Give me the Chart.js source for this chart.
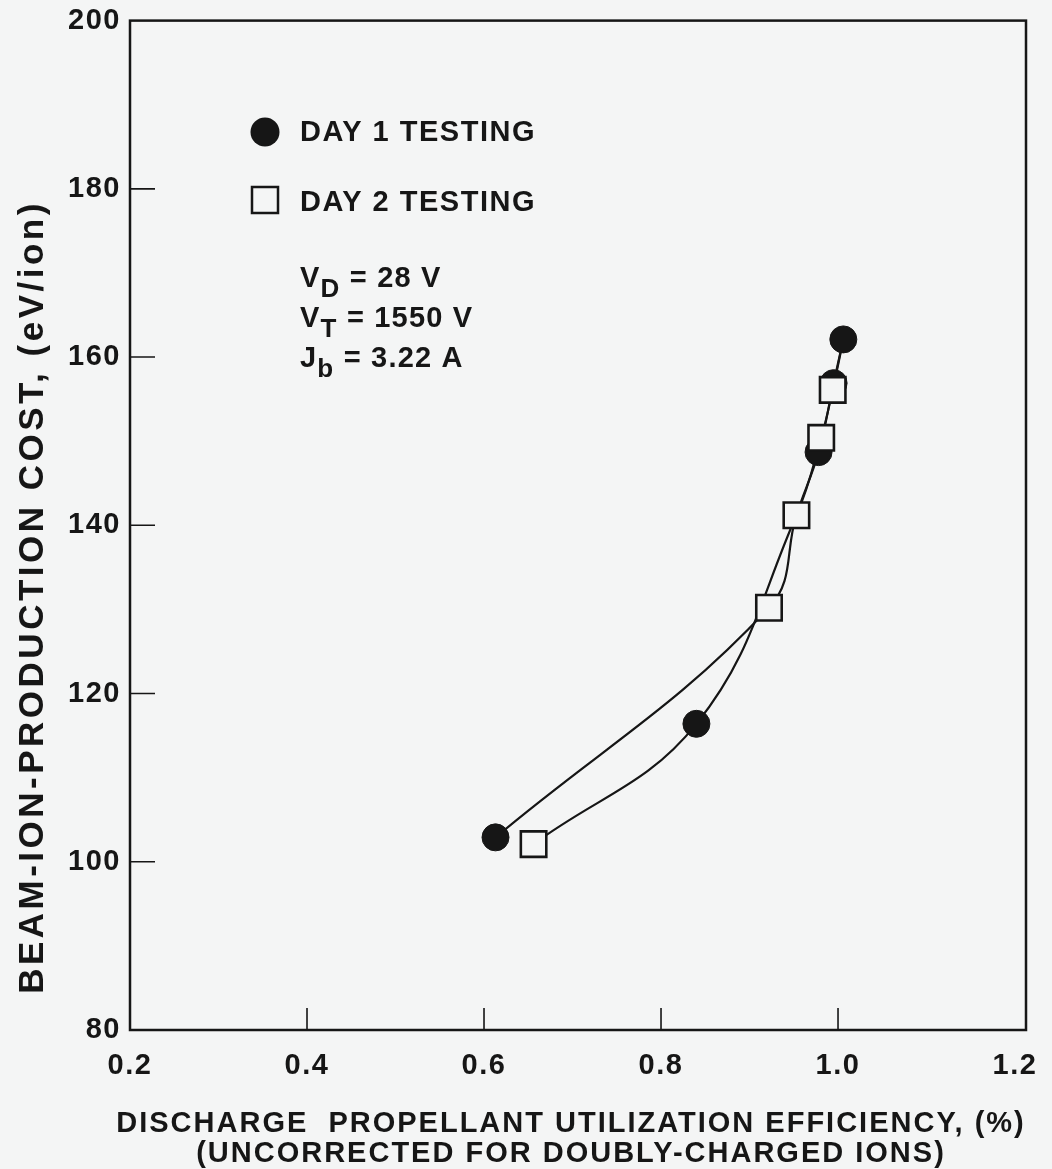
<!DOCTYPE html>
<html><head><meta charset="utf-8">
<script src="https://cdn.jsdelivr.net/npm/chart.js@4.4.1/dist/chart.umd.min.js"></script>
<style>html,body{margin:0;padding:0;background:#f4f5f5;}#wrap{width:1052px;height:1169px;}</style>
</head><body><div id="wrap"><canvas id="c" width="1052" height="1169"></canvas></div>
<script>
// ---- data ----
const xTickValues = [0.2, 0.4, 0.6, 0.8, 1.0, 1.2];
const xTickLabels = ['0.2', '0.4', '0.6', '0.8', '1.0', '1.2'];
const yTickValues = [80, 100, 120, 140, 160, 180, 200];
const yTickLabels = ['80', '100', '120', '140', '160', '180', '200'];
const day1X = [0.613, 0.840, 0.978, 0.995, 1.006];
const day1Y = [102.9, 116.4, 148.7, 156.9, 162.1];
const day2X = [0.656, 0.922, 0.953, 0.981, 0.994];
const day2Y = [102.1, 130.2, 141.2, 150.4, 156.1];
// hand-drawn curves in the figure link these points (series, index)
const curveAPts = [['d1', 0], ['d2', 1], ['d2', 2], ['d1', 2], ['d1', 3], ['d1', 4]];
const curveBPts = [['d2', 0], ['d1', 1], ['d2', 2], ['d2', 3], ['d2', 4], ['d1', 4]];
const seriesNames = ['DAY 1 TESTING', 'DAY 2 TESTING'];
const xTitle1 = 'DISCHARGE  PROPELLANT UTILIZATION EFFICIENCY, (%)';
const xTitle2 = '(UNCORRECTED FOR DOUBLY-CHARGED IONS)';
const yTitle = 'BEAM-ION-PRODUCTION COST, (eV/ion)';
const notes = [['V', 'D', ' = 28 V'], ['V', 'T', ' = 1550 V'], ['J', 'b', ' = 3.22 A']];

// ---- build ----
const INK = '#161616';
const BG = '#f4f5f5';
const FONT = '"Liberation Sans", Arial, Helvetica, sans-serif';
const toPts = (xs, ys) => xs.map((x, i) => ({x: x, y: ys[i]}));
const d1 = toPts(day1X, day1Y), d2 = toPts(day2X, day2Y);
const pick = (list) => list.map(([s, i]) => (s === 'd1' ? d1 : d2)[i]);

const setLS = (ctx, v) => { if ('letterSpacing' in ctx) ctx.letterSpacing = v; };

const framePlugin = {
  id: 'frame',
  beforeLayout(chart) { setLS(chart.ctx, '1.5px'); },
  beforeDraw(chart) { setLS(chart.ctx, '1.5px'); },
  beforeDatasetsDraw(chart) {
    const {ctx, chartArea: a, scales: {x, y}} = chart;
    ctx.save();
    ctx.strokeStyle = INK;
    ctx.lineWidth = 2.5;
    ctx.strokeRect(a.left, a.top, a.right - a.left, a.bottom - a.top);
    ctx.lineWidth = 1.6;
    ctx.beginPath();
    yTickValues.slice(1, -1).forEach(v => {
      const py = y.getPixelForValue(v);
      ctx.moveTo(a.left, py); ctx.lineTo(a.left + 25, py);
    });
    xTickValues.slice(1, -1).forEach(v => {
      const px = x.getPixelForValue(v);
      ctx.moveTo(px, a.bottom); ctx.lineTo(px, a.bottom - 22);
    });
    ctx.stroke();
    ctx.restore();
  },
  afterDraw(chart) {
    const {ctx} = chart;
    ctx.save();
    ctx.fillStyle = INK;
    ctx.strokeStyle = INK;
    // axis titles
    setLS(ctx, '2px');
    ctx.font = 'bold 29px ' + FONT;
    ctx.textAlign = 'center';
    ctx.textBaseline = 'alphabetic';
    ctx.fillText(xTitle1, 571, 1132);
    ctx.fillText(xTitle2, 571, 1162);
    ctx.save();
    setLS(ctx, '3.5px');
    ctx.font = 'bold 35px ' + FONT;
    ctx.translate(43, 597);
    ctx.rotate(-Math.PI / 2);
    ctx.fillText(yTitle, 0, 0);
    ctx.restore();
    // legend
    ctx.textAlign = 'left';
    ctx.beginPath();
    ctx.arc(265, 132, 14.5, 0, Math.PI * 2);
    ctx.fill();
    ctx.lineWidth = 2.5;
    ctx.strokeRect(252, 187, 26, 26);
    setLS(ctx, '1.5px');
    ctx.font = 'bold 29px ' + FONT;
    ctx.fillText(seriesNames[0], 300, 141);
    ctx.fillText(seriesNames[1], 300, 211);
    // notes with subscripts
    setLS(ctx, '1.2px');
    const bases = [287, 327, 367];
    notes.forEach((n, i) => {
      let xx = 300;
      ctx.font = 'bold 29px ' + FONT;
      ctx.fillText(n[0], xx, bases[i]);
      xx += ctx.measureText(n[0]).width;
      ctx.font = 'bold 26px ' + FONT;
      ctx.fillText(n[1], xx, bases[i] + 10);
      xx += ctx.measureText(n[1]).width;
      ctx.font = 'bold 29px ' + FONT;
      ctx.fillText(n[2], xx, bases[i]);
    });
    ctx.restore();
  }
};

const curveStyle = {showLine: true, pointRadius: 0, borderColor: INK, borderWidth: 2.2,
  tension: 0.4, fill: false, order: 3};

new Chart(document.getElementById('c'), {
  type: 'scatter',
  data: {
    datasets: [
      Object.assign({label: 'curveA', data: pick(curveAPts)}, curveStyle),
      Object.assign({label: 'curveB', data: pick(curveBPts)}, curveStyle),
      {label: seriesNames[0], data: d1, pointStyle: 'circle', pointRadius: 13.5,
       pointBackgroundColor: INK, pointBorderColor: INK, pointBorderWidth: 1, order: 2},
      {label: seriesNames[1], data: d2, pointStyle: 'rect', pointRadius: 18,
       pointBackgroundColor: BG, pointBorderColor: INK, pointBorderWidth: 2.6, order: 1}
    ]
  },
  options: {
    responsive: false,
    animation: false,
    layout: {padding: {left: 0, top: 18, right: 26, bottom: 0}},
    plugins: {legend: {display: false}, tooltip: {enabled: false}},
    scales: {
      x: {
        type: 'linear', min: 0.2, max: 1.2124,
        grid: {display: false, drawTicks: false},
        border: {display: false},
        afterBuildTicks: s => { s.ticks = xTickValues.map(v => ({value: v})); },
        afterFit: s => { s.height = 139; s.paddingLeft = 0; s.paddingRight = 0; },
        ticks: {autoSkip: false, maxRotation: 0, padding: 19, color: INK,
          font: {family: FONT, size: 29, weight: 'bold'},
          callback: (v, i) => xTickLabels[i]}
      },
      y: {
        type: 'linear', min: 80, max: 200,
        grid: {display: false, drawTicks: false},
        border: {display: false},
        afterBuildTicks: s => { s.ticks = yTickValues.map(v => ({value: v})); },
        afterFit: s => { s.width = 130; s.paddingTop = 0; s.paddingBottom = 0; },
        ticks: {autoSkip: false, padding: 9, color: INK,
          font: {family: FONT, size: 29, weight: 'bold'},
          callback: (v, i) => yTickLabels[i]}
      }
    }
  },
  plugins: [framePlugin]
});
</script></body></html>
